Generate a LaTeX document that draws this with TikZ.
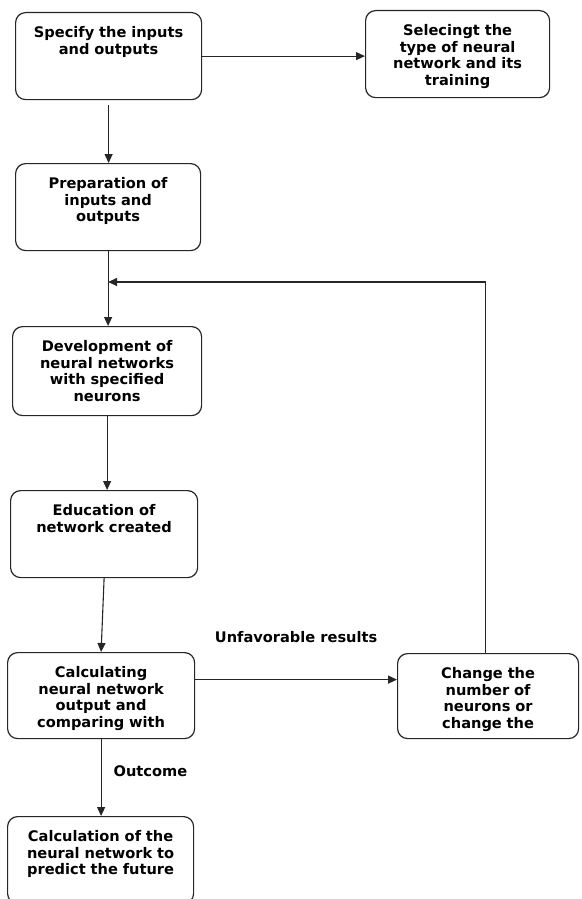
\documentclass[tikz,border=0pt]{standalone}
\usepackage{fontspec}
\setmainfont{DejaVu Sans}
\usetikzlibrary{arrows.meta}

\begin{document}
\begin{tikzpicture}[x=1pt, y=-1pt,
  stage/.style={draw=black!85, line width=1.2pt, rounded corners=10pt, fill=white, anchor=north west,
    align=center, inner sep=0pt, text width=186pt, text height=25pt, text depth=62pt,
    font=\bfseries\fontsize{14.6}{16.5}\selectfont},
  note/.style={font=\bfseries\fontsize{14.6}{16.5}\selectfont, inner sep=0pt},
  flow/.style={draw=black!85, line width=1.1pt, -{Triangle[length=9pt, width=8pt]}}]
			\useasboundingbox (0,0) rectangle (581,899);
			\clip (0,0) rectangle (581,899);

			\node[stage] (spec) at (15,12) {Specify the inputs\\and outputs};
			\node[stage, text width=184pt] (select) at (365,10) {Selecingt the\\type of neural\\network and its\\training};
			\node[stage, text width=185pt] (prep) at (15,163) {Preparation of\\inputs and\\outputs};
			\node[stage, text width=189pt, text depth=64pt] (devel) at (12,326) {Development of\\neural networks\\with specified\\neurons};
			\node[stage, text width=187pt] (educ) at (10,490) {Education of\\network created};
			\node[stage, text width=187pt, text depth=61pt] (calc) at (7,652) {Calculating\\neural network\\output and\\comparing with};
			\node[stage, text width=181pt, text depth=60pt] (change) at (397,653) {Change the\\number of\\neurons or\\change the};
			\node[stage] (predict) at (7,816) {Calculation of the\\neural network to\\predict the future};

			\coordinate (merge) at (prep.south |- 0,282);

			\path (spec.east) edge[flow] (spec.east -| select.west);
			\path (spec.south) edge[flow, shorten <=5pt] (spec.south |- prep.north);
			\path (prep.south) edge[flow] (prep.south |- devel.north);
			\draw[flow] ([xshift=-3pt]change.north) |- (merge);
			\path (devel.south) edge[flow] (devel.south |- educ.north);
			\path (educ.south) edge[flow] (calc.north);
			\path ([yshift=16pt]calc.east) edge[flow] node[note, above=36pt] (unfav) {Unfavorable results} ([yshift=16pt]calc.east -| change.west);
			\path (calc.south) edge[flow] node[note, right=12pt, pos=0.41] (outcome) {Outcome} (calc.south |- predict.north);
\end{tikzpicture}
\end{document}
